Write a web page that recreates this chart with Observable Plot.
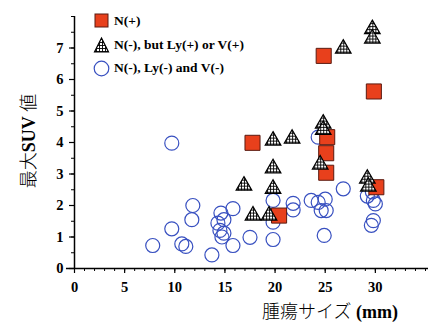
<!DOCTYPE html>
<html><head><meta charset="utf-8">
<script src="https://cdn.jsdelivr.net/npm/d3@7"></script>
<script src="https://cdn.jsdelivr.net/npm/@observablehq/plot@0.6"></script>
<style>
body{margin:0;background:#fff;color:#000;}
#wrap{position:relative;width:432px;height:327px;overflow:hidden;background:#fff;color:#000;}
#wrap svg.plot{position:absolute;left:0;top:0;}
.legend{position:absolute;left:93px;top:10px;font-family:"Liberation Serif",serif;font-weight:bold;font-size:13.5px;color:#000;}
.legend .row{position:absolute;left:0;white-space:nowrap;height:18px;line-height:18px;}
.legend .row svg{position:absolute;left:0;top:0;}
.legend .row span{position:absolute;left:21px;top:0;}
.xlab{position:absolute;left:262px;top:300px;white-space:nowrap;font-size:18px;line-height:20px;color:#000;}
.ylab{position:absolute;left:28px;top:141px;white-space:nowrap;font-size:18px;line-height:20px;color:#000;transform:translate(-50%,-50%) rotate(-90deg);}
.jp{font-family:"Noto Sans CJK JP",sans-serif;font-weight:300;color:#000;}
.en{font-family:"Liberation Serif",serif;font-weight:bold;color:#000;}
</style></head><body>
<svg width="0" height="0" style="position:absolute">
<defs><pattern id="hatch" patternUnits="userSpaceOnUse" width="3" height="3"><rect width="3" height="3" fill="#fff"/><path d="M0 0.5H3M0.5 0V3" stroke="#000" stroke-width="0.9"/></pattern></defs></svg>
<div id="wrap">
  <div class="legend">
    <div class="row" style="top:2px"><svg width="18" height="18"><rect x="2" y="2" width="13" height="13" fill="#e8401c" stroke="#5a1a10" stroke-width="1"/></svg><span>N(+)</span></div>
    <div class="row" style="top:26px"><svg width="18" height="18"><path d="M8.5 2L15.5 16H1.5Z" fill="url(#hatch)" stroke="#000" stroke-width="1.2"/></svg><span>N(-), but Ly(+) or V(+)</span></div>
    <div class="row" style="top:49px"><svg width="18" height="18"><circle cx="8.5" cy="9.5" r="7.3" fill="none" stroke="#3850c0" stroke-width="1.2"/></svg><span>N(-), Ly(-) and V(-)</span></div>
  </div>
  <div class="xlab"><span class="jp">腫瘍サイズ</span> <span class="en">(mm)</span></div>
  <div class="ylab"><span class="jp">最大</span><span class="en">SUV</span> <span class="jp">値</span></div>
</div>
<script>
// N(+) : red squares
const nPosX = [17.75, 20.4, 24.85, 25.2, 25.1, 25.1, 29.85, 30.1];
const nPosY = [3.99, 1.68, 6.75, 4.17, 3.66, 3.04, 5.62, 2.58];
// N(-), but Ly(+) or V(+) : hatched triangles
const lyX = [26.8, 29.7, 29.7, 24.8, 24.8, 24.5, 29.2, 29.3, 19.8, 21.7, 19.8, 16.9, 19.8, 17.8, 19.4];
const lyY = [6.98, 7.6, 7.3, 4.6, 4.4, 3.3, 2.85, 2.6, 4.06, 4.12, 3.18, 2.63, 2.53, 1.68, 1.68];
// N(-), Ly(-) and V(-) : blue open circles
const negX = [7.8, 9.7, 9.7, 10.7, 11.1, 11.8, 11.7, 13.7, 14.6, 14.3, 14.9, 14.5, 14.9, 14.7, 15.8, 15.8, 17.5,
  19.8, 19.8, 19.8, 21.8, 21.8, 23.6, 24.3, 25.0, 24.6, 25.1, 24.9, 24.3, 26.8, 29.2, 29.8, 30.0, 29.6, 29.8, 29.7];
const negY = [0.73, 3.98, 1.26, 0.78, 0.70, 2.0, 1.55, 0.43, 1.76, 1.44, 1.55, 1.21, 1.12, 1.0, 1.9, 0.73, 0.99,
  2.16, 1.47, 0.92, 2.07, 1.86, 2.16, 2.1, 2.2, 1.84, 1.84, 1.05, 4.17, 2.53, 2.3, 2.16, 2.05, 1.37, 1.52, 2.43];
const xTicks = [0, 5, 10, 15, 20, 25, 30];
const yTicks = [0, 1, 2, 3, 4, 5, 6, 7];

const squares = nPosX.map((x, i) => ({x, y: nPosY[i]}));
const tris = lyX.map((x, i) => ({x, y: lyY[i]}));
const circles = negX.map((x, i) => ({x, y: negY[i]}));

const chart = Plot.plot({
  width: 432, height: 327,
  marginLeft: 74, marginRight: 4, marginTop: 16, marginBottom: 59,
  x: {domain: [0, 35.3]},
  y: {domain: [0, 8]},
  style: {fontFamily: "Liberation Serif", fontSize: "14.5px", fontWeight: "bold", color: "#000", background: "transparent"},
  marks: [
    Plot.axisX({ticks: d3.range(0, 36, 1), tickSize: 3, tickFormat: () => "", label: null}),
    Plot.axisX({ticks: xTicks, tickSize: 5, tickPadding: 8, label: null, strokeWidth: 1.2}),
    Plot.axisY({ticks: d3.range(0, 8.01, 0.5), tickSize: 3, tickFormat: () => "", label: null}),
    Plot.axisY({ticks: yTicks, tickSize: 5, tickPadding: 6, label: null, strokeWidth: 1.2}),
    Plot.ruleY([0], {x1: -0.8, x2: 35.3, stroke: "#000", strokeWidth: 1.5}),
    Plot.ruleX([0], {y1: 0, y2: 8, stroke: "#000", strokeWidth: 1.5}),
    Plot.dot(circles, {x: "x", y: "y", r: 7, stroke: "#3850c0", strokeWidth: 1.2, fill: "none"}),
    Plot.dot(squares, {x: "x", y: "y", symbol: "square", r: 8.5, fill: "#e8401c", stroke: "#5a1a10", strokeWidth: 1}),
    Plot.dot(tris, {x: "x", y: "y", symbol: "triangle", r: 5.8, fill: "url(#hatch)", stroke: "#000", strokeWidth: 1.2})
  ]
});
document.getElementById("wrap").prepend(chart);
</script>
</body></html>
